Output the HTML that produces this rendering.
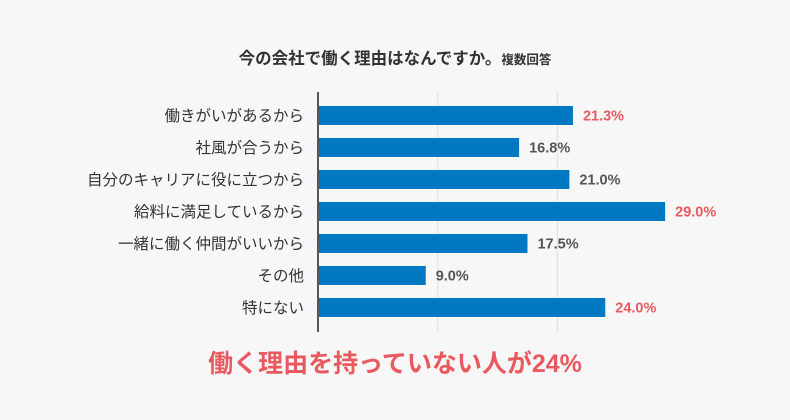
<!DOCTYPE html>
<html><head><meta charset="utf-8"><style>
body{margin:0;background:#f7f7f7;}
svg{display:block;font-family:"Liberation Sans","Noto Sans CJK JP",sans-serif;}
</style></head><body>
<svg width="790" height="420" id="c">
<rect width="790" height="420" fill="#f7f7f7"/>
<text x="395" y="64" text-anchor="middle" font-size="16.5" font-weight="bold" fill="#333">今の会社で働く理由はなんですか。<tspan font-size="12.5">複数回答</tspan></text>
<g id="grid"></g><g id="bars"></g>
<line x1="318" y1="92" x2="318" y2="332" stroke="#555" stroke-width="2"/>
<text x="395" y="372" text-anchor="middle" font-size="25" font-weight="bold" fill="#e85a5f">働く理由を持っていない人が24%</text>
</svg>
<script>
const categories=["働きがいがあるから","社風が合うから","自分のキャリアに役に立つから","給料に満足しているから","一緒に働く仲間がいいから","その他","特にない"];
const values=[21.3,16.8,21.0,29.0,17.5,9.0,24.0];
const highlighted=[true,false,false,true,false,false,true];
const gridTicks=[10,20];
const NS="http://www.w3.org/2000/svg";
const x0=318,pxPer=11.97,rowTop=106,rowStep=32,barH=19;
const xs=v=>x0+v*pxPer;
const ys=i=>rowTop+i*rowStep;
const grid=document.getElementById('grid'),bars=document.getElementById('bars');
gridTicks.forEach(t=>{const l=document.createElementNS(NS,'line');


l.setAttribute('x1',xs(t));l.setAttribute('x2',xs(t));l.setAttribute('y1',92);l.setAttribute('y2',332);
l.setAttribute('stroke','#e6e6e6');l.setAttribute('stroke-width','1.5');grid.appendChild(l);});
categories.forEach((c,i)=>{
const r=document.createElementNS(NS,'rect');


r.setAttribute('x',x0);r.setAttribute('y',ys(i));r.setAttribute('width',xs(values[i])-x0);r.setAttribute('height',barH);r.setAttribute('fill','#0079c2');bars.appendChild(r);
const t=document.createElementNS(NS,'text');


t.setAttribute('x',304);t.setAttribute('y',ys(i)+barH/2+5.5);t.setAttribute('text-anchor','end');t.setAttribute('font-size','15.5');t.setAttribute('fill','#333');t.textContent=c;bars.appendChild(t);
const v=document.createElementNS(NS,'text');


v.setAttribute('x',xs(values[i])+10);v.setAttribute('y',ys(i)+barH/2+5);v.setAttribute('font-size','14.5');v.setAttribute('font-weight','bold');v.setAttribute('fill',highlighted[i]?'#e85a5f':'#555');v.textContent=values[i].toFixed(1)+'%';bars.appendChild(v);
});
</script>
</body></html>
